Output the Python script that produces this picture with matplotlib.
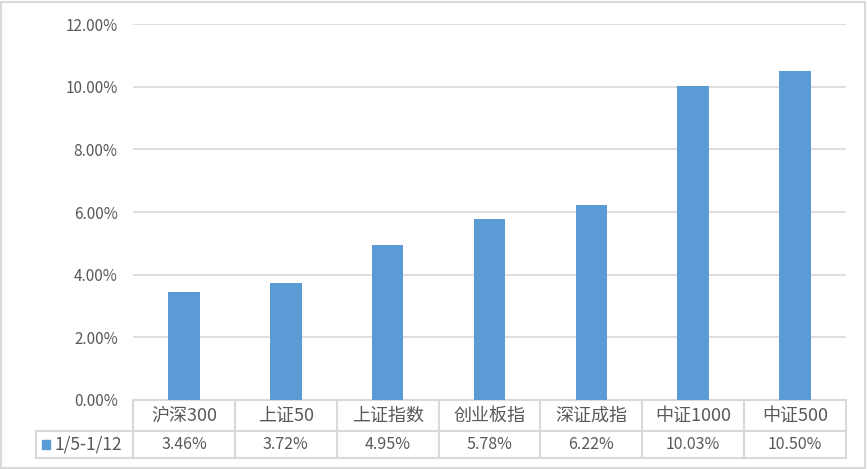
import numpy as np
import matplotlib.pyplot as plt
from matplotlib.patches import Rectangle

plt.rcParams['font.family'] = ['Noto Sans CJK SC', 'DejaVu Sans']

categories = ['沪深300', '上证50', '上证指数', '创业板指', '深证成指', '中证1000', '中证500']
values = [3.46, 3.72, 4.95, 5.78, 6.22, 10.03, 10.50]
series_name = '1/5-1/12'
yticks = [0, 2, 4, 6, 8, 10, 12]

W, H = 867, 469
fig = plt.figure(figsize=(W / 100, H / 100), dpi=100)
# plot area in pixels: x 133..846, y 24..400
ax = fig.add_axes([133 / W, 1 - 400 / H, (846 - 133) / W, (400 - 24) / H])

txt = '#595959'
grid = '#D9D9D9'
blue = '#5B9BD5'

x = np.arange(len(categories))
ax.bar(x, values, width=0.31, color=blue, zorder=3)
ax.set_xlim(-0.5, len(categories) - 0.5)
ax.set_ylim(0, 12)
ax.set_yticks(yticks)
ax.set_yticklabels(['%.2f%%' % v for v in yticks], color=txt, fontsize=11)
ax.tick_params(axis='y', length=0, pad=11)
ax.set_xticks([])
ax.grid(axis='y', color=grid, linewidth=1.2, zorder=0)
for s in ax.spines.values():
    s.set_visible(False)

# data table below the axis
tr = ax.get_xaxis_transform()
row1 = -(431 - 400) / 376
row2 = -(458 - 400) / 376
left = -0.5 - (133 - 36) / (713 / 7)
lk = dict(color=grid, linewidth=1.5, clip_on=False, transform=tr)
ax.plot([-0.5, 6.5], [0, 0], **lk)
ax.plot([left, 6.5], [row1, row1], **lk)
ax.plot([left, 6.5], [row2, row2], **lk)
for b in np.arange(-0.5, 7.0, 1.0):
    ax.plot([b, b], [0, row2], **lk)
ax.plot([left, left], [row1, row2], **lk)

for i, (c, v) in enumerate(zip(categories, values)):
    ax.text(i, row1 / 2, c, ha='center', va='center', color=txt, fontsize=13,
            transform=tr, clip_on=False)
    ax.text(i, (row1 + row2) / 2, '%.2f%%' % v, ha='center', va='center',
            color=txt, fontsize=11.5, transform=tr, clip_on=False)

# legend key inside the table
ax.add_patch(Rectangle((left + 0.06, (row1 + row2) / 2 - 0.012), 0.075, 0.025,
                       color=blue, transform=tr, clip_on=False))
ax.text(left + 0.18, (row1 + row2) / 2, series_name, ha='left', va='center',
        color=txt, fontsize=12.5, transform=tr, clip_on=False)

# chart border
fig.patches.append(Rectangle((1 / W, 1 / H), 1 - 3 / W, 1 - 3 / H, fill=False,
                             edgecolor=grid, linewidth=1.5,
                             transform=fig.transFigure))

fig.savefig('out.png', dpi=100, facecolor='white')
